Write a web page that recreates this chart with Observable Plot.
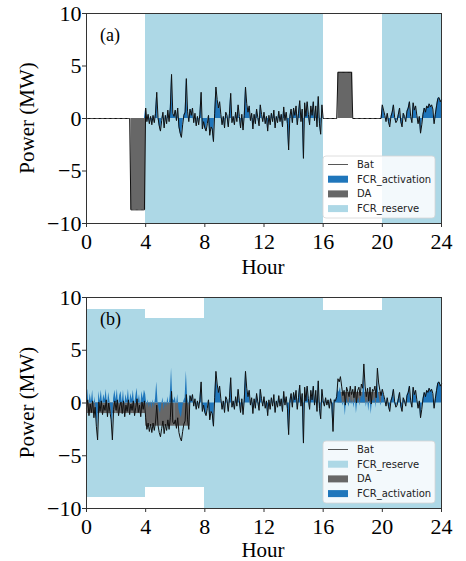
<!DOCTYPE html>
<html><head><meta charset="utf-8">
<script src="https://cdn.jsdelivr.net/npm/d3@7"></script>
<script src="https://cdn.jsdelivr.net/npm/@observablehq/plot@0.6"></script>
<style>body{margin:0;background:#fff}svg{display:block}</style>
</head><body><div id="a"></div><div id="b"></div>
<script>
// ---------- data ----------
const xTicks = [0, 4, 8, 12, 16, 20, 24];
const yTicks = [-10, -5, 0, 5, 10];
// day-ahead schedule, hourly (MW)
const daA = [0,0,0,-8.7,0,0,0,0,0,0,0,0,0,0,0,0,0,4.4,0,0,0,0,0,0];
const daB = [-1,-1,-1,-1,-2.2,-2.2,-2.2,0,0,0,0,0,0,0,0,0,0,1,1,1,0,0,0,0];
// FCR reserve blocks
const resStartA = [4, 20], resEndA = [16, 24], resLoA = [-10, -10], resHiA = [10, 10];
const resStartB = [0, 4, 8, 16, 20], resEndB = [4, 8, 16, 20, 24];
const resLoB = [-9, -8, -10, -10, -10], resHiB = [8.9, 8, 10, 8.8, 10];
// FCR activation, 5-min steps
const actA_4_16 = [
 1.0,-0.3,0.4,-0.5,0.2,-0.6,0.3,-0.4,0.5,2.5,0.1,-0.7,
 -1.2,-0.2,0.6,-0.9,0.3,-0.5,0.8,-0.3,1.0,4.2,0.5,0.2,
 0.8,-0.2,1.0,-0.8,-1.4,-1.8,-0.6,0.3,0.6,3.8,0.7,-0.3,
 0.9,0.3,1.0,-0.4,0.5,-0.7,0.2,-0.6,0.4,2.5,-1.0,-0.3,
 -0.9,-1.2,-0.5,0.3,-1.6,-0.8,-1.0,-2.2,0.5,3.0,1.8,1.0,
 1.6,0.4,-0.6,0.2,-0.9,0.6,0.3,-0.8,0.5,2.4,-0.4,0.2,
 -0.6,0.6,-0.3,1.3,0.2,-0.9,0.4,-1.1,0.3,3.0,1.4,0.6,
 1.2,-0.2,0.5,-1.0,0.4,-0.5,0.9,0.1,-0.7,1.3,0.4,-0.3,
 0.6,-0.5,0.2,-1.2,0.3,-0.6,0.5,-0.3,0.8,-0.9,0.2,-0.4,
 0.7,-0.3,0.4,-0.8,1.1,-0.2,0.6,-0.5,-3.0,0.2,0.9,-0.4,
 1.0,0.3,1.2,-0.6,0.5,1.7,-0.3,0.9,-3.8,1.5,0.2,1.6,
 0.4,-0.6,1.2,0.3,1.6,-0.2,1.2,-0.8,2.1,-0.5,-1.5,1.3];
const actA_20_24 = [
 1.3,0.8,0.3,-0.3,0.5,-0.3,-0.8,0.2,0.6,1.3,0.1,-0.4,
 -0.2,0.4,1.0,-0.3,-0.8,0.5,0.2,-0.3,0.7,1.0,1.6,0.2,
 -0.4,1.5,0.8,1.2,0.3,-0.5,0.2,-1.4,-0.6,0.4,1.0,0.6,
 1.2,1.0,1.4,1.1,1.3,0.9,-0.5,0.4,1.2,1.9,2.0,1.6,1.8];
const actB_0_8 = [
 0.5,1.3,-0.2,0.9,0.1,1.2,-0.4,0.6,-1.2,-2.5,1.1,0.2,
 1.2,-0.1,0.8,0.3,1.3,-0.3,1.0,0.2,-0.6,-2.5,0.4,1.2,
 0.3,1.3,-0.2,0.7,1.1,0.0,1.2,-0.3,0.8,0.2,1.3,-0.1,
 0.9,0.3,1.2,-0.2,0.6,1.4,0.1,0.8,-0.3,1.1,0.4,1.2,
 0.8,-0.3,0.3,-0.5,0.2,-0.6,0.3,-0.4,0.4,2.0,0.1,-0.6,
 -1.0,-0.2,0.5,-0.7,0.2,-0.4,0.6,-0.3,0.8,3.3,0.4,0.2,
 0.6,-0.2,0.8,-0.6,-1.1,-1.4,-0.5,0.2,0.5,3.0,0.6,-0.3,
 0.7,0.2,0.8,-0.3,0.4,-0.6,0.2,-0.5,0.3,2.0,-0.8,-0.2];
const actB_16_20 = [
 0.2,-0.3,0.5,-0.2,0.3,-0.5,0.4,-0.1,-2.7,0.3,0.2,0.6,
 1.3,1.0,1.5,0.6,-0.3,0.2,-1.2,0.5,0.1,-0.4,0.6,-0.2,
 0.3,-0.5,0.6,-1.0,0.2,0.5,-0.3,0.8,0.4,2.7,0.6,-0.4,
 0.4,-0.8,0.5,-1.1,0.3,0.1,0.6,-0.5,2.3,0.9,0.2,-0.3];
const legendA = ["Bat", "FCR_activation", "DA", "FCR_reserve"];
const legendB = ["Bat", "FCR_reserve", "DA", "FCR_activation"];

// ---------- style ----------
const C = {bat: "#111", act: "#1f76bb", da: "#676767", res: "#add8e6"};
const SERIF = "Liberation Serif, Times New Roman, serif";

// ---------- build tables ----------
function series(da, segs) {
  const out = [];
  for (let i = 0; i <= 288; i++) {
    let act = 0;
    for (const s of segs) {
      const k = i - s.start * 12;
      if (k >= 0 && k < s.vals.length) act = s.vals[k];
    }
    const h = Math.min(Math.floor(i / 12), 23);
    out.push({t: i / 12, act, bat: da[h] + act});
  }
  return out;
}
const segA = [{start: 4, vals: actA_4_16}, {start: 20, vals: actA_20_24}];
const segB = [{start: 0, vals: actB_0_8}, {start: 8, vals: actA_4_16.slice(48)},
              {start: 16, vals: actB_16_20}, {start: 20, vals: actA_20_24}];
const serA = series(daA, segA), serB = series(daB, segB);
const daRows = da => da.map((v, h) => ({h0: h, h1: h + 1, v})).filter(d => d.v !== 0);
const resRows = (s, e, lo, hi) => s.map((v, i) => ({x1: v, x2: e[i], lo: lo[i], hi: hi[i]}));

function panel(opts) {
  const {height, mt, mb, ser, da, res, label, legend, legKinds, hourOff} = opts;
  const svg = Plot.plot({
    width: 466, height, marginLeft: 86, marginRight: 25, marginTop: mt, marginBottom: mb,
    x: {domain: [0, 24]}, y: {domain: [-10, 10]},
    style: {fontFamily: SERIF, fontSize: "22px", color: "#000", background: "#fff"},
    marks: [
      Plot.rect(res, {x1: "x1", x2: "x2", y1: "lo", y2: "hi", fill: C.res, shapeRendering: "crispEdges"}),
      Plot.rect(daRows(da), {x1: "h0", x2: "h1", y1: 0, y2: "v", fill: C.da}),
      Plot.areaY(ser, {x: "t", y: "act", fill: C.act}),
      Plot.line(ser, {x: "t", y: "bat", stroke: C.bat, strokeWidth: 1}),
      Plot.axisX({ticks: xTicks, tickSize: 4, tickPadding: 6, label: null, stroke: "#333"}),
      Plot.axisY({ticks: yTicks, tickSize: 4, tickPadding: 1, label: null, stroke: "#333"}),
      Plot.frame({stroke: "#333"})
    ]
  });
  const s = d3.select(svg);
  const top = mt, bot = height - mb;
  s.append("text").attr("x", 263).attr("y", bot + hourOff).attr("text-anchor", "middle")
    .attr("font-family", SERIF).attr("font-size", 21).text("Hour");
  s.append("text").attr("transform", `translate(34,${(top + bot) / 2}) rotate(-90)`)
    .attr("text-anchor", "middle").attr("font-family", SERIF).attr("font-size", 21).text("Power (MW)");
  s.append("text").attr("x", 100).attr("y", top + 28).attr("text-anchor", "start").attr("font-family", SERIF)
    .attr("font-size", 18).text(label);
  // legend
  const lx = 323, ly = bot - 67, lw = 112, lh = 62;
  const g = s.append("g").attr("text-anchor", "start");
  g.append("rect").attr("x", lx).attr("y", ly).attr("width", lw).attr("height", lh).attr("rx", 3)
    .attr("fill", "#fff").attr("fill-opacity", 0.85).attr("stroke", "#d6d6d6").attr("stroke-width", 0.8);
  legend.forEach((name, i) => {
    const cy = ly + 8.5 + i * 14.7;
    const k = legKinds[i];
    if (k === "bat") g.append("line").attr("x1", lx + 5).attr("x2", lx + 25).attr("y1", cy).attr("y2", cy)
      .attr("stroke", "#444").attr("stroke-width", 0.9);
    else g.append("rect").attr("x", lx + 5).attr("y", cy - 3.5).attr("width", 20).attr("height", 7).attr("fill", C[k]);
    g.append("text").attr("x", lx + 34).attr("y", cy).attr("dy", "0.35em").attr("text-anchor", "start")
      .attr("font-family", "DejaVu Sans, sans-serif").attr("font-size", 10).attr("fill", "#222").text(name);
  });
  return svg;
}

document.getElementById("a").append(panel({height: 280, mt: 13, mb: 57, ser: serA, da: daA,
  res: resRows(resStartA, resEndA, resLoA, resHiA), label: "(a)", legend: legendA,
  legKinds: ["bat", "act", "da", "res"], hourOff: 51}));
document.getElementById("b").append(panel({height: 281, mt: 17, mb: 53, ser: serB, da: daB,
  res: resRows(resStartB, resEndB, resLoB, resHiB), label: "(b)", legend: legendB,
  legKinds: ["bat", "res", "da", "act"], hourOff: 49}));
</script></body></html>
